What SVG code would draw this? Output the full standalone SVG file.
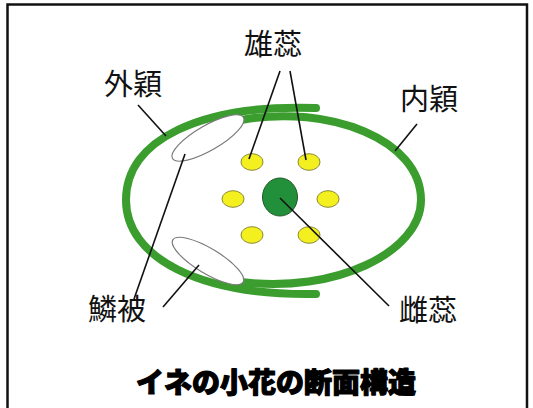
<svg xmlns="http://www.w3.org/2000/svg" width="533" height="408" viewBox="0 0 533 408">
  <style>
    .glume { fill: none; stroke: #3a9d2e; stroke-width: 8; stroke-linecap: round; }
    .lodicule { fill: #ffffff; stroke: #7a7a7a; stroke-width: 1.2; }
    .stamen { fill: #f4f020; stroke: #8a8a30; stroke-width: 1; }
    .pistil { fill: #22903a; stroke: #1f5a28; stroke-width: 1; }
    .leader { stroke: #111111; stroke-width: 1.6; fill: none; }
    .label { font-family: "Noto Sans CJK JP", "Noto Sans", sans-serif; font-size: 29px; fill: #111111; text-anchor: middle; }
    .title { font-family: "Noto Sans CJK JP", "Noto Sans", sans-serif; font-size: 28px; font-weight: 900; fill: #000000; stroke: #000000; stroke-width: 1.2; stroke-linejoin: round; text-anchor: middle; }
  </style>

  <rect x="0" y="0" width="533" height="408" fill="#ffffff"/>
  <!-- frame -->
  <path d="M7.5,410 V4.5 H527 V410" fill="none" stroke="#111111" stroke-width="2.5"/>

  <!-- glumes -->
  <g id="inner-glume">
    <path class="glume" d="M241,120 C330,104 421,140 421,200 C421,252 335,294 241,282"/>
  </g>
  <g id="outer-glume">
    <path class="glume" d="M316,108 C200,104 126,140 126,200 C126,258 200,296 316,294"/>
  </g>

  <!-- lodicules -->
  <g id="lodicule-upper">
    <ellipse class="lodicule" cx="208" cy="138" rx="41" ry="12.5" transform="rotate(-30 208 138)"/>
  </g>
  <g id="lodicule-lower">
    <ellipse class="lodicule" cx="208" cy="261" rx="41" ry="12.5" transform="rotate(31 208 261)"/>
  </g>

  <!-- stamens -->
  <g id="stamens">
    <ellipse class="stamen" cx="252" cy="162" rx="11" ry="8.3"/>
    <ellipse class="stamen" cx="309" cy="162" rx="11" ry="8.3"/>
    <ellipse class="stamen" cx="233" cy="199" rx="11" ry="8.3"/>
    <ellipse class="stamen" cx="328" cy="199" rx="11" ry="8.3"/>
    <ellipse class="stamen" cx="252" cy="235" rx="11" ry="8.3"/>
    <ellipse class="stamen" cx="309" cy="235" rx="11" ry="8.3"/>
  </g>

  <!-- pistil -->
  <g id="pistil">
    <ellipse class="pistil" cx="280" cy="197" rx="17.5" ry="19"/>
  </g>

  <!-- leader lines -->
  <g id="connectors">
    <line class="leader" x1="138" y1="105" x2="166" y2="136"/>
    <line class="leader" x1="280" y1="71" x2="249" y2="159"/>
    <line class="leader" x1="290" y1="71" x2="306" y2="160"/>
    <line class="leader" x1="417" y1="124" x2="395" y2="151"/>
    <line class="leader" x1="134" y1="299" x2="185" y2="154"/>
    <line class="leader" x1="163" y1="307" x2="199" y2="265"/>
    <line class="leader" x1="280" y1="198" x2="389" y2="306"/>
  </g>

  <!-- labels -->
  <g id="label-stamen"><text class="label" x="273" y="55">雄蕊</text></g>
  <g id="label-outer"><text class="label" x="133" y="95">外穎</text></g>
  <g id="label-inner"><text class="label" x="429" y="110">内穎</text></g>
  <g id="label-lodicule"><text class="label" x="117" y="320">鱗被</text></g>
  <g id="label-pistil"><text class="label" x="428" y="321">雌蕊</text></g>

  <g id="title"><text class="title" x="276" y="393">イネの小花の断面構造</text></g>
</svg>
